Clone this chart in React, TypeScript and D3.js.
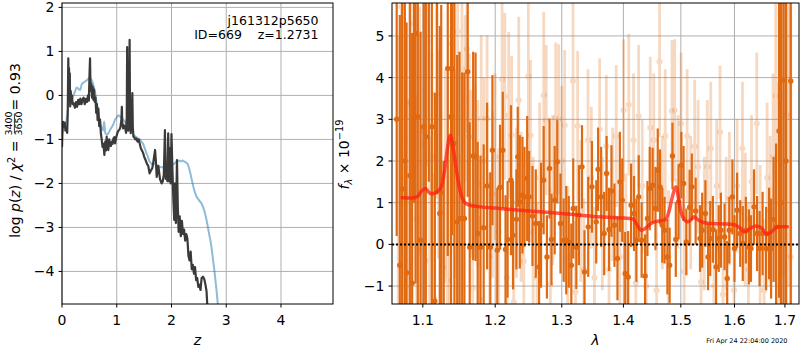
import React from "react";
import * as d3 from "d3";

// ---------- Left panel: redshift PDF ----------
const pzZ = [0.0,0.01,0.02,0.035,0.05,0.065,0.08,0.095,0.105,0.115,0.122,0.128,0.135,0.142,0.15,0.16,0.17,0.18,0.195,0.215,0.235,0.255,0.275,0.295,0.315,0.335,0.355,0.375,0.395,0.415,0.435,0.455,0.475,0.49,0.503,0.512,0.522,0.535,0.548,0.56,0.573,0.585,0.598,0.612,0.625,0.638,0.65,0.664,0.68,0.695,0.71,0.725,0.74,0.756,0.774,0.79,0.805,0.816,0.83,0.847,0.862,0.877,0.892,0.91,0.925,0.938,0.955,0.97,0.99,1.01,1.03,1.05,1.07,1.085,1.093,1.1,1.115,1.13,1.15,1.17,1.183,1.19,1.197,1.21,1.225,1.235,1.243,1.255,1.27,1.285,1.293,1.305,1.32,1.34,1.36,1.38,1.4,1.42,1.44,1.46,1.48,1.5,1.52,1.55,1.575,1.6,1.62,1.65,1.67,1.7,1.715,1.73,1.76,1.79,1.82,1.84,1.86,1.88,1.895,1.91,1.925,1.94,1.955,1.97,1.985,2.0,2.015,2.035,2.05,2.065,2.08,2.1,2.115,2.13,2.15,2.17,2.19,2.21,2.23,2.25,2.27,2.29,2.31,2.33,2.35,2.37,2.39,2.41,2.43,2.45,2.47,2.49,2.51,2.53,2.55,2.575,2.6,2.62,2.64,2.66,2.7];
const pzLog = [-1.17,-0.75,-0.6,-0.72,-0.62,-0.8,-0.78,-0.85,-0.4,0.84,0.2,0.62,-0.1,0.5,-0.25,0.1,-0.15,0.0,-0.2,-0.18,-0.28,-0.15,-0.26,-0.1,-0.2,-0.07,-0.2,-0.1,-0.05,-0.2,-0.08,-0.15,0.0,-0.12,0.5,0.84,0.1,0.27,-0.05,0.2,-0.1,0.13,-0.15,-0.05,-0.4,-0.2,-0.56,-0.3,-0.7,-0.55,-0.86,-1.0,-1.17,-1.1,-1.35,-1.05,-1.25,-0.94,-1.2,-1.24,-1.0,-1.1,-1.15,-1.05,-1.1,-0.98,-0.95,-1.09,-0.95,-0.86,-0.8,-0.78,-0.7,-0.55,-0.26,-0.6,-0.75,-0.68,-0.72,-0.85,-0.5,1.1,-0.5,-0.8,-0.4,1.26,-0.6,-0.86,-0.5,0.05,-0.7,-0.94,-0.95,-1.0,-0.98,-1.05,-1.0,-1.1,-1.2,-1.25,-1.3,-1.39,-1.45,-1.55,-1.6,-1.77,-1.72,-1.65,-1.5,-1.24,-1.5,-1.85,-1.6,-1.9,-2.0,-1.95,-1.8,-0.79,-1.9,-1.75,-1.95,-0.86,-1.95,-1.2,-2.0,-0.88,-1.6,-2.4,-2.83,-2.0,-2.9,-1.47,-2.5,-3.1,-2.75,-3.2,-2.85,-3.15,-3.05,-3.3,-3.15,-3.25,-3.65,-3.75,-3.55,-3.95,-3.85,-4.05,-3.9,-4.2,-4.15,-4.35,-4.3,-4.42,-4.15,-4.12,-4.18,-4.3,-4.45,-4.9,-5.5];

const priorZ = [0.0,0.03,0.06,0.09,0.12,0.15,0.18,0.21,0.24,0.27,0.3,0.33,0.36,0.4,0.44,0.48,0.51,0.54,0.57,0.6,0.63,0.66,0.69,0.72,0.75,0.77,0.79,0.82,0.85,0.88,0.91,0.94,0.97,1.0,1.03,1.06,1.09,1.12,1.15,1.18,1.21,1.24,1.27,1.3,1.33,1.36,1.39,1.42,1.45,1.48,1.51,1.54,1.57,1.6,1.63,1.66,1.69,1.72,1.75,1.78,1.81,1.84,1.87,1.9,1.93,1.96,1.99,2.02,2.05,2.08,2.11,2.14,2.17,2.2,2.23,2.26,2.29,2.32,2.35,2.4,2.45,2.5,2.55,2.6,2.64,2.68,2.73,2.76,2.79,2.82,2.85,2.88];
const priorLog = [-0.75,-0.8,-0.7,-0.5,-0.2,-0.05,-0.1,0.0,0.1,0.18,0.15,0.12,0.25,0.3,0.33,0.38,0.4,0.35,0.25,0.1,-0.15,-0.4,-0.6,-0.72,-0.8,-0.6,-0.85,-0.9,-0.85,-0.78,-0.72,-0.65,-0.55,-0.5,-0.45,-0.48,-0.52,-0.55,-0.6,-0.68,-0.72,-0.78,-0.82,-0.88,-0.92,-0.95,-0.98,-1.0,-1.05,-1.1,-1.2,-1.3,-1.4,-1.5,-1.55,-1.58,-1.55,-1.57,-1.6,-1.62,-1.63,-1.63,-1.62,-1.62,-1.6,-1.62,-1.6,-1.58,-1.55,-1.52,-1.5,-1.48,-1.5,-1.48,-1.5,-1.52,-1.55,-1.65,-1.8,-2.08,-2.28,-2.38,-2.46,-2.62,-2.83,-3.1,-3.44,-3.75,-4.05,-4.4,-4.8,-5.2];

const leftXTicks = [0, 1, 2, 3, 4];
const leftYTicks = [-4, -3, -2, -1, 0, 1, 2];

// ---------- Right panel: spectrum ----------
const darkLam = [1.066,1.07,1.073,1.0765,1.0787,1.083,1.086,1.0885,1.0904,1.0934,1.097,1.1013,1.104,1.108,1.112,1.116,1.119,1.1227,1.1246,1.128,1.1335,1.138,1.1395,1.1426,1.1464,1.1496,1.1533,1.1564,1.161,1.1638,1.1686,1.172,1.175,1.179,1.1835,1.1884,1.193,1.196,1.203,1.207,1.211,1.215,1.218,1.223,1.226,1.231,1.233,1.236,1.24,1.243,1.247,1.25,1.255,1.26,1.265,1.268,1.272,1.277,1.281,1.284,1.289,1.293,1.298,1.303,1.307,1.311,1.315,1.318,1.323,1.327,1.332,1.336,1.342,1.348,1.355,1.358,1.363,1.368,1.372,1.376,1.38,1.385,1.39,1.394,1.398,1.403,1.408,1.413,1.418,1.422,1.426,1.431,1.437,1.441,1.445,1.45,1.455,1.459,1.463,1.467,1.471,1.476,1.48,1.485,1.491,1.496,1.501,1.505,1.51,1.516,1.52,1.527,1.535,1.539,1.545,1.55,1.554,1.559,1.565,1.57,1.574,1.581,1.586,1.59,1.596,1.6,1.605,1.611,1.616,1.622,1.628,1.632,1.638,1.644,1.649,1.655,1.662,1.668,1.672,1.677,1.682,1.688,1.692,1.697,1.702,1.712];
const darkFlux = [3.0,-0.5,1.33,2.0,-0.68,1.65,-0.93,7.0,5.06,3.06,0.1,2.82,2.58,6.5,2.82,-1.36,6.2,0.74,1.24,-2.0,4.22,3.06,4.22,2.42,0.54,0.62,0.62,0.62,4.14,-0.07,2.12,2.1,0.26,-0.07,0.4,1.4,-0.07,2.26,-0.14,1.37,2.26,-0.12,0.12,1.54,0.22,0.6,2.1,1.02,1.18,1.14,1.58,1.14,0.68,0.5,-0.54,0.46,1.54,-0.3,1.82,0.12,1.06,1.98,0.5,0.1,0.1,0.06,-0.5,0.86,-0.07,0.7,1.86,-0.66,0.42,1.38,0.54,1.8,1.14,0.26,1.7,0.36,1.28,0.46,-0.34,1.5,1.06,-0.7,-0.78,0.94,0.74,0.1,1.14,0.1,-0.76,0.62,1.34,1.42,0.86,1.78,1.38,0.46,0.34,-0.3,-0.5,2.12,0.12,1.02,1.9,1.46,0.06,0.89,1.38,0.8,0.14,0.34,0.74,-0.3,0.14,0.36,-0.54,0.14,0.34,0.18,-0.82,0.34,1.14,-0.1,0.82,0.26,0.02,0.34,-0.06,-0.1,0.9,0.26,-0.1,0.26,-0.1,0.26,-0.1,0.6,0.42,2.72,1.0,3.94,2.0,3.92];
const darkErr = [2.8,6.0,6.0,6.0,6.0,6.0,6.0,6.0,6.0,5.5,5.0,5.0,5.0,5.0,5.0,5.0,5.0,4.5,4.5,4.0,4.5,4.5,4.0,4.0,4.0,4.0,3.5,3.5,3.0,3.0,2.5,2.5,2.2,2.2,2.0,2.0,1.8,1.8,1.5,1.5,1.4,1.3,1.4,1.8,1.3,1.2,1.2,1.6,1.4,1.2,1.5,1.1,1.2,1.3,1.1,1.5,1.3,1.0,1.2,1.1,1.3,1.0,1.2,1.0,1.3,1.1,1.0,1.2,1.0,1.2,1.0,1.0,1.2,1.1,1.0,1.0,1.2,1.0,0.9,1.0,1.1,1.0,1.0,1.2,1.0,1.0,1.1,1.0,0.9,1.0,1.0,0.9,1.0,0.9,1.0,0.9,1.0,1.0,0.9,0.9,0.8,0.9,0.9,0.8,0.9,0.9,0.8,0.9,0.8,0.9,0.8,0.8,0.8,0.9,0.8,0.8,0.9,0.8,0.9,0.8,0.9,0.8,0.9,0.8,0.9,0.8,0.9,0.8,0.9,0.8,0.9,0.8,0.9,0.9,0.9,1.0,1.0,1.1,1.2,1.5,2.0,4.0,5.0,7.0,7.0,7.0];

const lightLam = [1.068,1.072,1.076,1.08,1.084,1.088,1.092,1.096,1.099,1.102,1.106,1.109,1.112,1.115,1.118,1.121,1.124,1.127,1.13,1.133,1.136,1.1395,1.143,1.147,1.15,1.153,1.1574,1.16,1.163,1.165,1.168,1.172,1.175,1.178,1.18,1.184,1.1884,1.192,1.196,1.2,1.205,1.21,1.214,1.217,1.2197,1.224,1.227,1.231,1.2344,1.238,1.242,1.2488,1.252,1.256,1.2619,1.266,1.2721,1.276,1.2823,1.286,1.2905,1.2952,1.3,1.3045,1.3092,1.3177,1.3215,1.325,1.33,1.335,1.3416,1.347,1.352,1.3605,1.365,1.3715,1.376,1.382,1.388,1.394,1.4003,1.404,1.409,1.4172,1.421,1.4258,1.432,1.439,1.4459,1.452,1.457,1.4622,1.467,1.4722,1.478,1.4842,1.489,1.495,1.5005,1.506,1.5114,1.518,1.5252,1.5315,1.537,1.543,1.5486,1.555,1.561,1.566,1.5724,1.578,1.584,1.5903,1.5993,1.605,1.6154,1.621,1.627,1.633,1.6434,1.65,1.6579,1.664,1.67,1.676,1.6813,1.687,1.6969,1.7037,1.708,1.712];
const lightFlux = [1.0,5.7,2.5,-0.5,3.4,5.3,0.6,2.7,-0.12,2.4,4.87,-0.4,2.1,-1.3,3.6,2.16,0.78,-0.55,1.7,-0.86,0.1,4.8,1.7,5.1,-0.3,4.22,3.5,4.68,2.58,1.7,-1.05,1.86,1.46,-1.32,3.02,2.0,3.02,-0.29,1.2,2.1,0.3,3.96,3.55,-0.8,3.1,2.62,-1.38,1.0,3.46,0.9,-0.4,4.03,2.62,0.3,-0.8,1.6,3.58,2.98,-0.95,1.3,3.04,3.0,2.0,2.86,-0.3,3.92,-1.14,2.84,0.8,-0.6,2.5,1.6,-0.8,2.76,0.5,2.36,-0.6,1.2,2.6,-0.3,3.22,0.1,3.35,2.5,-0.92,3.08,1.4,-1.0,2.8,2.5,-1.1,4.38,1.0,2.6,-0.3,3.2,3.22,1.5,2.9,-0.65,2.6,1.0,2.35,1.86,-0.9,0.5,1.86,2.3,-1.0,1.4,2.69,-1.2,0.5,1.1,-1.1,1.4,2.3,0.6,-0.6,1.5,2.9,0.2,-1.1,1.6,0.8,2.1,3.56,0.9,3.24,3.1,5.0,-0.3];
const lightErr = [4.0,5.0,4.0,4.0,3.0,4.0,3.0,3.0,3.0,3.0,3.0,3.0,2.5,3.0,2.5,2.5,2.5,2.5,2.5,2.5,2.5,2.5,2.5,2.5,2.5,2.0,2.0,2.0,2.0,2.0,2.0,2.0,2.0,2.0,2.0,2.0,2.0,2.0,2.0,2.0,2.0,2.0,2.0,1.9,2.0,1.9,1.9,1.8,2.0,1.8,1.8,2.0,1.8,1.8,1.8,1.8,2.0,1.8,1.8,1.8,1.8,1.8,1.8,1.8,1.7,1.9,1.7,1.8,1.7,1.7,1.7,1.7,1.7,1.7,1.6,1.7,1.6,1.6,1.7,1.6,1.7,1.6,1.7,1.6,1.6,1.7,1.6,1.6,1.7,1.6,1.6,1.8,1.6,1.6,1.6,1.7,1.7,1.6,1.7,1.6,1.6,1.6,1.6,1.6,1.6,1.6,1.6,1.6,1.6,1.6,1.6,1.6,1.6,1.6,1.6,1.6,1.6,1.6,1.6,1.6,1.7,1.7,1.7,1.8,1.8,2.0,2.5,3.0,4.0,5.0,6.0,6.0];

const modelLam = [1.073,1.085,1.093,1.0985,1.1035,1.108,1.112,1.118,1.124,1.129,1.133,1.137,1.141,1.146,1.151,1.156,1.162,1.18,1.2,1.25,1.3,1.35,1.4,1.416,1.422,1.43,1.437,1.447,1.457,1.465,1.473,1.479,1.485,1.491,1.496,1.5,1.506,1.513,1.519,1.524,1.53,1.54,1.555,1.58,1.6,1.61,1.619,1.63,1.642,1.652,1.657,1.663,1.67,1.677,1.685,1.705];
const modelFlux = [1.12,1.11,1.15,1.28,1.34,1.25,1.21,1.25,1.35,1.75,2.3,2.62,2.3,1.7,1.25,1.02,0.95,0.9,0.87,0.8,0.74,0.67,0.63,0.61,0.5,0.34,0.38,0.5,0.55,0.57,0.6,0.8,1.15,1.38,1.1,0.8,0.6,0.54,0.6,0.66,0.6,0.53,0.5,0.49,0.47,0.4,0.3,0.38,0.44,0.4,0.33,0.24,0.28,0.35,0.42,0.42];

const rightXTicks = [1.1, 1.2, 1.3, 1.4, 1.5, 1.6, 1.7];
const rightYTicks = [-1, 0, 1, 2, 3, 4, 5];

const FONT = "DejaVu Sans, sans-serif";
const ORANGE = "#e06a12";
const fmt = (v: number) => (v < 0 ? "\u2212" + Math.abs(v) : String(v));

export default function App() {
  const top = 3, bottom = 304;
  const L = { x0: 62, x1: 333 };
  const R = { x0: 392, x1: 799 };

  const xL = d3.scaleLinear().domain([0, 4.95]).range([L.x0, L.x1]);
  const yL = d3.scaleLinear().domain([-4.74, 2.1]).range([bottom, top]);
  const xR = d3.scaleLog().domain([1.06, 1.729]).range([R.x0, R.x1]);
  const yR = d3.scaleLinear().domain([-1.43, 5.79]).range([bottom, top]);

  const pzLine = d3.line<number>().x((_, i) => xL(pzZ[i])).y((d) => yL(d));
  const priorLine = d3.line<number>().x((_, i) => xL(priorZ[i])).y((d) => yL(d)).curve(d3.curveMonotoneX);
  const modelLine = d3.line<number>().x((_, i) => xR(modelLam[i])).y((d) => yR(d)).curve(d3.curveMonotoneX);

  const tickLen = 3.5;
  const gridColor = "#b0b0b0";

  return (
    <svg width={800} height={350} style={{ position: "absolute", left: 0, top: 0, background: "white" }} fontFamily={FONT}>
      <defs>
        <clipPath id="clipL"><rect x={L.x0} y={top} width={L.x1 - L.x0} height={bottom - top} /></clipPath>
        <clipPath id="clipR"><rect x={R.x0} y={top} width={R.x1 - R.x0} height={bottom - top} /></clipPath>
      </defs>
      <rect x={0} y={0} width={800} height={350} fill="white" />

      {/* ---------- LEFT PANEL ---------- */}
      <g>
        {leftXTicks.map((t) => (
          <line key={"lgx" + t} x1={xL(t)} x2={xL(t)} y1={top} y2={bottom} stroke={gridColor} strokeWidth={1} />
        ))}
        {leftYTicks.map((t) => (
          <line key={"lgy" + t} x1={L.x0} x2={L.x1} y1={yL(t)} y2={yL(t)} stroke={gridColor} strokeWidth={1} />
        ))}
        <g clipPath="url(#clipL)">
          <path d={priorLine(priorLog) || ""} fill="none" stroke="#1f77b4" strokeOpacity={0.5} strokeWidth={2} />
          <path d={pzLine(pzLog) || ""} fill="none" stroke="#3a3a3a" strokeWidth={2.2} strokeLinejoin="round" />
        </g>
        <rect x={L.x0} y={top} width={L.x1 - L.x0} height={bottom - top} fill="none" stroke="black" strokeWidth={1} />
        {leftXTicks.map((t) => (
          <g key={"lxt" + t}>
            <line x1={xL(t)} x2={xL(t)} y1={bottom} y2={bottom + tickLen} stroke="black" />
            <text x={xL(t)} y={325} textAnchor="middle" fontSize={14}>{fmt(t)}</text>
          </g>
        ))}
        {leftYTicks.map((t) => (
          <g key={"lyt" + t}>
            <line x1={L.x0 - tickLen} x2={L.x0} y1={yL(t)} y2={yL(t)} stroke="black" />
            <text x={L.x0 - 7.5} y={yL(t)} dy="0.36em" textAnchor="end" fontSize={14}>{fmt(t)}</text>
          </g>
        ))}
        <text x={318.5} y={25} textAnchor="end" fontSize={12.5}>j161312p5650</text>
        <text x={318.5} y={39} textAnchor="end" fontSize={12.5} style={{ whiteSpace: "pre" }}>{"ID=669    z=1.2731"}</text>
        <text x={(L.x0 + L.x1) / 2} y={345} textAnchor="middle" fontSize={14} fontStyle="italic">z</text>
        <g transform="translate(20,160) rotate(-90)">
          <text x={24} y={0} textAnchor="end" fontSize={14} style={{ whiteSpace: "pre" }}>
            {"log "}<tspan fontStyle="italic">p</tspan>(<tspan fontStyle="italic">z</tspan>){" / "}<tspan fontStyle="italic">χ</tspan>
            <tspan dy={-5.5} fontSize={9.8}>2</tspan><tspan dy={5.5}>{" = "}</tspan>
          </text>
          <text x={36.5} y={-8} textAnchor="middle" fontSize={9.5}>3400</text>
          <line x1={26.5} x2={46.5} y1={-5.6} y2={-5.6} stroke="black" strokeWidth={0.8} />
          <text x={36.5} y={1.5} textAnchor="middle" fontSize={9.5}>3650</text>
          <text x={49.5} y={0} fontSize={14}>= 0.93</text>
        </g>
      </g>

      {/* ---------- RIGHT PANEL ---------- */}
      <g>
        {rightXTicks.map((t) => (
          <line key={"rgx" + t} x1={xR(t)} x2={xR(t)} y1={top} y2={bottom} stroke={gridColor} strokeWidth={1} />
        ))}
        {rightYTicks.map((t) => (
          <line key={"rgy" + t} x1={R.x0} x2={R.x1} y1={yR(t)} y2={yR(t)} stroke={gridColor} strokeWidth={1} />
        ))}
        <g clipPath="url(#clipR)">
          {lightLam.map((l, i) => (
            <g key={"lp" + i} opacity={0.25}>
              <line x1={xR(l)} x2={xR(l)} y1={yR(lightFlux[i] - lightErr[i])} y2={yR(lightFlux[i] + lightErr[i])} stroke={ORANGE} strokeWidth={2.8} />
              <circle cx={xR(l)} cy={yR(lightFlux[i])} r={3} fill={ORANGE} />
            </g>
          ))}
          {darkLam.map((l, i) => (
            <g key={"dp" + i}>
              <line x1={xR(l)} x2={xR(l)} y1={yR(darkFlux[i] - darkErr[i])} y2={yR(darkFlux[i] + darkErr[i])} stroke={ORANGE} strokeWidth={2.2} />
              <circle cx={xR(l)} cy={yR(darkFlux[i])} r={2.7} fill={ORANGE} />
            </g>
          ))}
          <path d={modelLine(modelFlux) || ""} fill="none" stroke="#ff2010" strokeOpacity={0.75} strokeWidth={3.5} strokeLinejoin="round" strokeLinecap="round" />
          <line x1={R.x0} x2={R.x1} y1={yR(0)} y2={yR(0)} stroke="black" strokeWidth={2} strokeDasharray="2,2" />
        </g>
        <rect x={R.x0} y={top} width={R.x1 - R.x0} height={bottom - top} fill="none" stroke="black" strokeWidth={1} />
        {rightXTicks.map((t) => (
          <g key={"rxt" + t}>
            <line x1={xR(t)} x2={xR(t)} y1={bottom} y2={bottom + tickLen} stroke="black" />
            <text x={xR(t)} y={325} textAnchor="middle" fontSize={14}>{t.toFixed(1)}</text>
          </g>
        ))}
        {rightYTicks.map((t) => (
          <g key={"ryt" + t}>
            <line x1={R.x0 - tickLen} x2={R.x0} y1={yR(t)} y2={yR(t)} stroke="black" />
            <text x={R.x0 - 7.5} y={yR(t)} dy="0.36em" textAnchor="end" fontSize={14}>{fmt(t)}</text>
          </g>
        ))}
        <text x={(R.x0 + R.x1) / 2} y={345} textAnchor="middle" fontSize={14} fontStyle="italic">λ</text>
        <text transform="translate(349,154.5) rotate(-90)" textAnchor="middle" fontSize={14} style={{ whiteSpace: "pre" }}>
          <tspan fontStyle="italic">f</tspan><tspan dy={3} fontSize={9.8} fontStyle="italic">λ</tspan><tspan dy={-3}>{" × 10"}</tspan><tspan dy={-6} fontSize={9.8}>−19</tspan>
        </text>
      </g>

      <text x={787.5} y={342.5} textAnchor="end" fontSize={6.5}>Fri Apr 24 22:04:00 2020</text>
    </svg>
  );
}
